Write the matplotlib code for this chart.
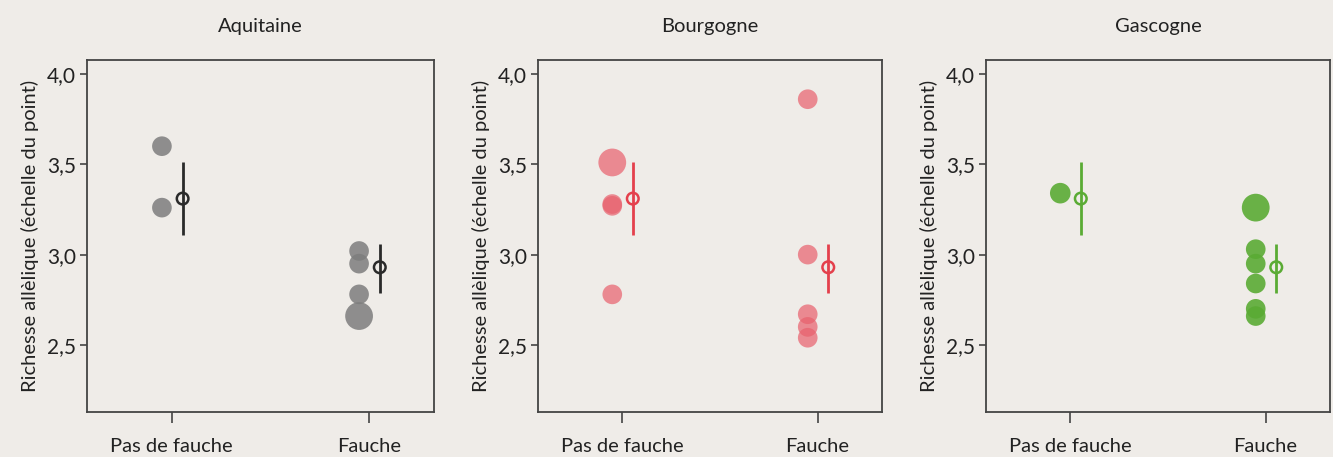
import numpy as np
import matplotlib
matplotlib.use("Agg")
import matplotlib.pyplot as plt
from matplotlib.ticker import FuncFormatter

plt.rcParams['font.family'] = ['Lato', 'DejaVu Sans']

regions = ["Aquitaine", "Bourgogne", "Gascogne"]
categories = ["Pas de fauche", "Fauche"]
colors = ["#7d7d7d", "#e8606c", "#5aab34"]
line_colors = ["#2a2a2a", "#e4404c", "#5aab34"]
alphas = [0.85, 0.7, 0.9]

# observed points per region and relative marker size
pas_vals = [[3.60, 3.26], [3.51, 3.27, 3.28, 2.78], [3.34]]
pas_size = [[1, 1], [2, 1, 1, 1], [1.1]]
fau_vals = [[3.02, 2.95, 2.78, 2.66],
            [3.86, 3.00, 2.67, 2.60, 2.54],
            [3.26, 3.03, 2.95, 2.84, 2.70, 2.66]]
fau_size = [[1, 1, 1, 2], [1, 1, 1, 1, 1], [2, 1, 1, 1, 1, 1]]

# model estimates (mean and interval)
est_mean = [3.31, 2.93]
est_low = [3.11, 2.79]
est_high = [3.51, 3.06]

bg = "#efece8"
fig = plt.figure(figsize=(13.33, 4.57), dpi=100, facecolor=bg)

lefts = [87, 538, 986]
widths = [347, 344, 344]
W, H = 1333, 457

for i, reg in enumerate(regions):
    ax = fig.add_axes([lefts[i] / W, 1 - 412 / H, widths[i] / W, 352 / H])
    ax.set_facecolor(bg)
    c = colors[i]
    lc = line_colors[i]
    for cat, vals, sz in [(0, pas_vals[i], pas_size[i]), (1, fau_vals[i], fau_size[i])]:
        xs = np.full(len(vals), cat - 0.05)
        ss = [200 * s for s in sz]
        ax.scatter(xs, vals, s=ss, color=c, alpha=alphas[i], edgecolors='none', zorder=2)
    xm = np.arange(len(categories)) + 0.055
    mean = np.array(est_mean)
    yerr = [mean - np.array(est_low), np.array(est_high) - mean]
    ax.errorbar(xm, mean, yerr=yerr, fmt='none', ecolor=lc, elinewidth=2, zorder=3)
    ax.scatter(xm, mean, s=70, facecolors='none', edgecolors=lc, linewidths=1.8, zorder=4)

    ax.set_xlim(-0.43, 1.33)
    ax.set_ylim(2.129, 4.077)
    ax.set_xticks(range(len(categories)))
    ax.set_xticklabels(categories, fontsize=14.5, color="#222222")
    ax.set_yticks([2.5, 3.0, 3.5, 4.0])
    ax.yaxis.set_major_formatter(FuncFormatter(lambda v, p: f"{v:.1f}".replace('.', ',')))
    ax.tick_params(axis='y', length=5, width=1.2, color="#444444", labelsize=15,
                   labelcolor="#222222", pad=3)
    ax.tick_params(axis='x', length=8, width=1.2, color="#444444", pad=11)
    for sp in ax.spines.values():
        sp.set_color("#444444")
        sp.set_linewidth(1.3)
    ax.set_ylabel("Richesse allèlique (échelle du point)", fontsize=14.5, color="#222222",
                  labelpad=6)
    ax.set_title(reg, fontsize=14.5, color="#222222", pad=20)

fig.savefig("out.png", dpi=100, facecolor=bg)
